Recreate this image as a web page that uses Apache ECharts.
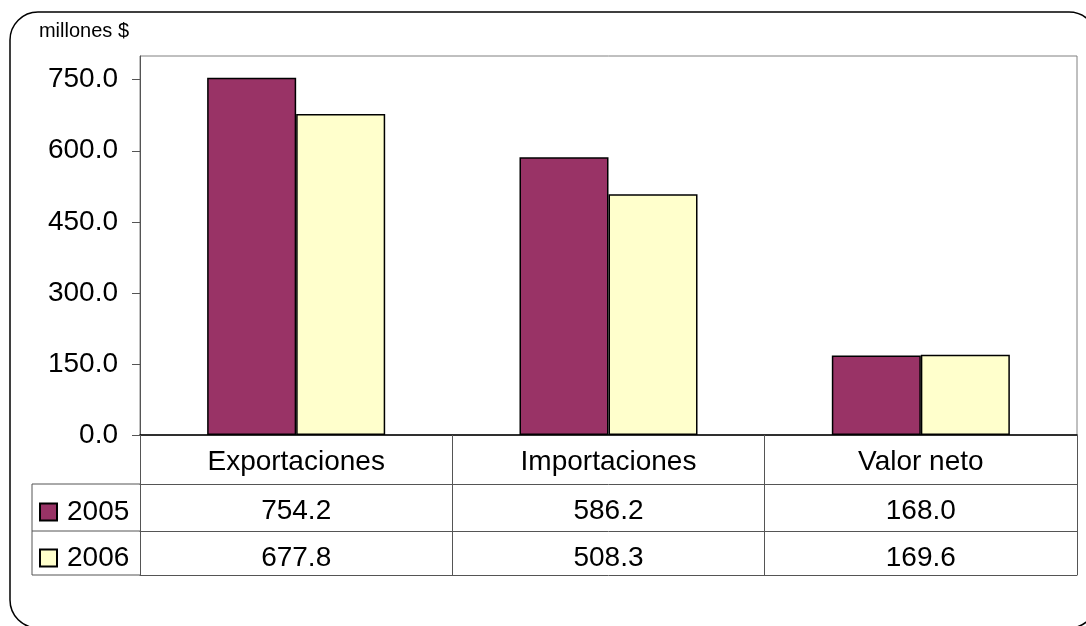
<!DOCTYPE html>
<html>
<head>
<meta charset="utf-8">
<script src="https://cdn.jsdelivr.net/npm/echarts@6/dist/echarts.min.js"></script>
<style>
  html, body { margin: 0; padding: 0; background: #fff; }
  #chart { width: 1086px; height: 626px; }
</style>
</head>
<body>
<div id="chart"></div>
<script>
// Trade values, millions of dollars
const categories = ['Exportaciones', 'Importaciones', 'Valor neto'];
const seriesNames = ['2005', '2006'];
const values2005 = [754.2, 586.2, 168.0];
const values2006 = [677.8, 508.3, 169.6];
const yTicks = [0, 150, 300, 450, 600, 750];
const yMax = 800;

const FONT = "'Liberation Sans', Arial, sans-serif";
const LINE = '#555';

const chart = echarts.init(document.getElementById('chart'), null, { renderer: 'canvas' });

// Data-table rows drawn as extra category axes sharing the plot's grid
function tableRow(labels, offset, tickLen, margin) {
  return {
    type: 'category',
    data: labels,
    position: 'bottom',
    offset: offset,
    boundaryGap: true,
    axisLine: { show: true, lineStyle: { color: LINE, width: 1 } },
    axisTick: { show: tickLen > 0, length: tickLen, interval: 0, lineStyle: { color: LINE, width: 1 } },
    axisLabel: {
      show: labels.some(l => l !== ''),
      interval: 0, margin: margin, verticalAlign: 'middle',
      color: '#000', fontSize: 28, fontFamily: FONT
    },
    splitLine: { show: false }
  };
}

const fmt = v => v.toFixed(1);

const option = {
  backgroundColor: '#fff',
  animation: false,
  textStyle: { fontFamily: FONT },
  grid: {
    left: 140, right: 9, top: 56, bottom: 191,
    show: true, borderColor: '#808080', borderWidth: 1, backgroundColor: 'transparent'
  },
  legend: {
    orient: 'vertical',
    left: 39, top: 498,
    padding: 0,
    itemWidth: 17, itemHeight: 17, itemGap: 18,
    icon: 'rect',
    textStyle: { fontSize: 28, lineHeight: 28, color: '#000', fontFamily: FONT, padding: [0, 0, 0, 5] },
    data: seriesNames
  },
  xAxis: [
    {
      type: 'category',
      data: categories,
      position: 'bottom',
      boundaryGap: true,
      axisLine: { show: true, lineStyle: { color: '#000', width: 1.5 } },
      axisTick: { show: true, length: 49, interval: 0, lineStyle: { color: LINE, width: 1 } },
      axisLabel: { interval: 0, margin: 27, verticalAlign: 'middle', color: '#000', fontSize: 28, fontFamily: FONT },
      splitLine: { show: false }
    },
    tableRow(values2005.map(fmt), 49, 47, 27),
    tableRow(values2006.map(fmt), 96, 44, 27),
    tableRow(categories.map(() => ''), 140, 0, 0)
  ],
  yAxis: {
    type: 'value',
    min: 0, max: yMax, interval: 150,
    name: 'millones $',
    nameLocation: 'end',
    nameGap: 25,
    nameTextStyle: { fontSize: 20, color: '#000', fontFamily: FONT, align: 'right', verticalAlign: 'middle', padding: [0, 11, 0, 0] },
    axisLine: { show: true, lineStyle: { color: LINE, width: 1 } },
    axisTick: { show: true, length: 8, customValues: yTicks, lineStyle: { color: LINE, width: 1 } },
    axisLabel: { customValues: yTicks, formatter: fmt, margin: 22, fontSize: 28, color: '#000', fontFamily: FONT },
    splitLine: { show: false }
  },
  series: [
    {
      name: seriesNames[0], type: 'bar', data: values2005,
      barGap: '0%', barCategoryGap: '43%',
      itemStyle: { color: '#993366', borderColor: '#000', borderWidth: 1.5 }
    },
    {
      name: seriesNames[1], type: 'bar', data: values2006,
      barGap: '0%', barCategoryGap: '43%',
      itemStyle: { color: '#FFFFCC', borderColor: '#000', borderWidth: 1.5 }
    }
  ],
  graphic: [
    // rounded chart frame
    { type: 'rect', shape: { x: 10, y: 12, width: 1087, height: 616, r: 28 },
      style: { fill: 'transparent', stroke: '#000', lineWidth: 1.5 }, z: 10 },
    // legend column of the data table
    { type: 'line', shape: { x1: 32, y1: 484, x2: 32, y2: 575 }, style: { stroke: LINE, lineWidth: 1 } },
    { type: 'line', shape: { x1: 32, y1: 484, x2: 140, y2: 484 }, style: { stroke: LINE, lineWidth: 1 } },
    { type: 'line', shape: { x1: 32, y1: 531, x2: 140, y2: 531 }, style: { stroke: LINE, lineWidth: 1 } },
    { type: 'line', shape: { x1: 32, y1: 575, x2: 140, y2: 575 }, style: { stroke: LINE, lineWidth: 1 } }
  ]
};

chart.setOption(option);
</script>
</body>
</html>
